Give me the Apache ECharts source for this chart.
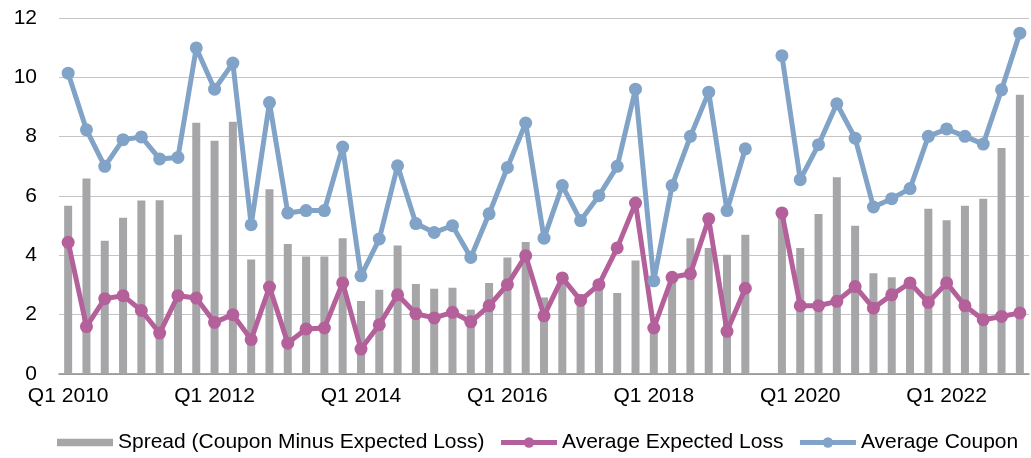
<!DOCTYPE html>
<html>
<head>
<meta charset="utf-8">
<script src="https://cdn.jsdelivr.net/npm/echarts@6/dist/echarts.min.js"></script>
<style>
  html, body { margin: 0; padding: 0; background: #fff; }
  #chart { width: 1031px; height: 458px; }
</style>
</head>
<body>
<div id="chart"></div>
<script>
// quarters Q1 2010 .. Q1 2023, Q3 2019 has no data
const years = ['2010', '2011', '2012', '2013', '2014', '2015', '2016', '2017', '2018', '2019', '2020', '2021', '2022', '2023']
const quarters = []
years.forEach(y => {
    ['Q1', 'Q2', 'Q3', 'Q4'].forEach(q => {
        if (quarters.length < 53) quarters.push(q + ' ' + y)
    })
})

const spread = [
    5.67, 6.59, 4.49, 5.27, 5.85, 5.86, 4.69, 8.47, 7.86, 8.50,
    3.86, 6.23, 4.38, 3.96, 3.96, 4.58, 2.46, 2.84, 4.33, 3.03,
    2.87, 2.91, 2.17, 3.07, 3.93, 4.45, 2.58, 3.11, 2.69, 2.98,
    2.73, 3.83, 1.59, 3.09, 4.58, 4.25, 4.02, 4.69, null, 5.30,
    4.25, 5.39, 6.63, 5.00, 3.40, 3.26, 3.18, 5.57, 5.18, 5.67,
    5.91, 7.62, 9.41
]

const expectedLoss = [
    4.44, 1.60, 2.54, 2.64, 2.14, 1.38, 2.64, 2.56, 1.74, 2.00,
    1.16, 2.93, 1.04, 1.52, 1.55, 3.07, 0.84, 1.66, 2.67, 2.03,
    1.89, 2.08, 1.76, 2.30, 3.01, 3.99, 1.96, 3.24, 2.48, 3.01,
    4.25, 5.76, 1.55, 3.26, 3.38, 5.23, 1.44, 2.89, null, 5.43,
    2.30, 2.30, 2.45, 2.95, 2.22, 2.67, 3.07, 2.41, 3.07, 2.30,
    1.83, 1.94, 2.06
]

const coupon = [
    10.14, 8.23, 7.00, 7.90, 7.99, 7.25, 7.30, 10.99, 9.60, 10.48,
    5.03, 9.15, 5.43, 5.51, 5.51, 7.65, 3.31, 4.55, 7.02, 5.07,
    4.77, 5.00, 3.93, 5.40, 6.96, 8.46, 4.58, 6.35, 5.17, 6.01,
    7.00, 9.60, 3.14, 6.35, 8.01, 9.50, 5.51, 7.59, null, 10.73,
    6.55, 7.73, 9.11, 7.95, 5.63, 5.91, 6.25, 8.01, 8.26, 8.01,
    7.75, 9.58, 11.49
]

const yTicks = [0, 2, 4, 6, 8, 10, 12]

const seriesNames = ['Spread (Coupon Minus Expected Loss)', 'Average Expected Loss', 'Average Coupon']
const colors = ['#A6A6A9', '#B4609A', '#80A3C7']

const font = "'Liberation Sans', Arial, sans-serif"

const lineSeries = (name, data, color) => ({
    name: name,
    type: 'line',
    data: data,
    connectNulls: false,
    showAllSymbol: true,
    symbol: 'circle',
    symbolSize: 13,
    lineStyle: { width: 5, color: color },
    itemStyle: { color: color }
})

const chart = echarts.init(document.getElementById('chart'))
chart.setOption({
    animation: false,
    textStyle: { fontFamily: font },
    grid: { left: 59, right: 2, top: 18, bottom: 84 },
    legend: {
        bottom: 0,
        left: 52,
        itemWidth: 56,
        itemHeight: 13,
        itemGap: 14,
        lineStyle: { width: 5 },
        textStyle: { fontSize: 21, color: '#000', fontFamily: font },
        data: [
            { name: seriesNames[0], icon: 'path://M0,0H52V7H0Z' },
            { name: seriesNames[1] },
            { name: seriesNames[2] }
        ]
    },
    xAxis: {
        type: 'category',
        data: quarters,
        boundaryGap: true,
        axisLine: { lineStyle: { color: '#8C8C8C', width: 1.5 } },
        axisTick: { show: false },
        axisLabel: {
            interval: 7,
            fontSize: 21,
            color: '#000',
            margin: 12
        }
    },
    yAxis: {
        type: 'value',
        min: yTicks[0],
        max: yTicks[yTicks.length - 1],
        interval: 2,
        axisLine: { show: false },
        axisTick: { show: false },
        splitLine: { lineStyle: { color: '#C4C4C4', width: 1 } },
        axisLabel: { fontSize: 21, color: '#000', margin: 22 }
    },
    series: [
        {
            name: seriesNames[0],
            type: 'bar',
            data: spread,
            barWidth: 8,
            itemStyle: { color: colors[0] }
        },
        lineSeries(seriesNames[1], expectedLoss, colors[1]),
        lineSeries(seriesNames[2], coupon, colors[2])
    ]
})
</script>
</body>
</html>
